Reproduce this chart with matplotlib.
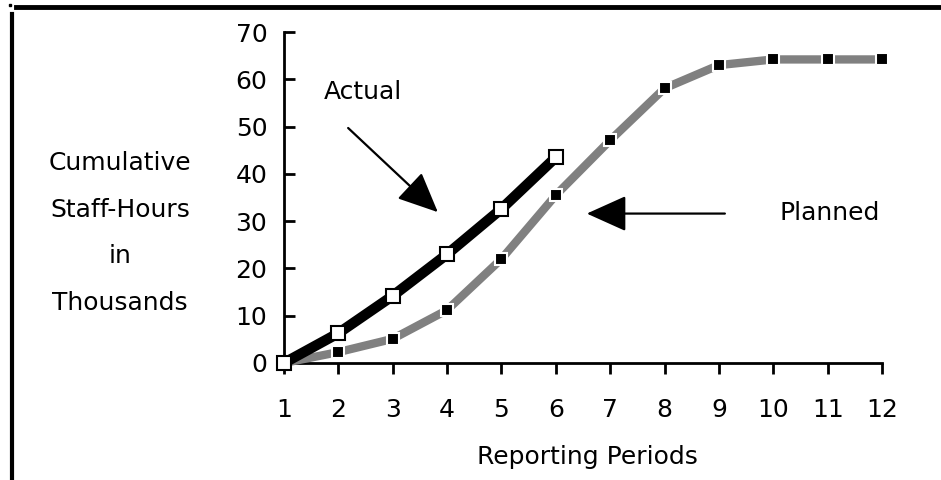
import matplotlib.pyplot as plt
from matplotlib.lines import Line2D

# Data
periods = list(range(1, 13))
actual_periods = [1, 2, 3, 4, 5, 6]
actual = [0, 6.3, 14.2, 23, 32.6, 43.5]
planned = [0, 2.3, 5.1, 11.2, 22, 35.5, 47.1, 58.1, 63, 64.2, 64.2, 64.2]
y_ticks = [0, 10, 20, 30, 40, 50, 60, 70]

plt.rcParams['font.family'] = 'DejaVu Sans'

fig = plt.figure(figsize=(9.41, 4.80), dpi=100)
ax = fig.add_axes([0.3018, 0.2438, 0.6355, 0.6895])

# Planned line: gray with black squares outlined in white
ax.plot(periods, planned, color='#808080', lw=6, marker='s', markersize=9,
        markerfacecolor='black', markeredgecolor='white', markeredgewidth=1.5,
        clip_on=False, zorder=3)
# Actual line: thick black with hollow squares
ax.plot(actual_periods, actual, color='black', lw=7.5, marker='s', markersize=10.5,
        markerfacecolor='white', markeredgecolor='black', markeredgewidth=1.5,
        clip_on=False, zorder=4)

ax.set_xlim(1, 12)
ax.set_ylim(0, 70)
ax.set_xticks(periods)
ax.set_yticks(y_ticks)
ax.spines['top'].set_visible(False)
ax.spines['right'].set_visible(False)
for s in ['left', 'bottom']:
    ax.spines[s].set_linewidth(2)
ax.tick_params(axis='x', direction='out', length=8, width=2, pad=17, labelsize=18)
ax.tick_params(axis='y', direction='in', length=8, width=2, pad=12, labelsize=18)

# Annotations
arrow = dict(arrowstyle='-|>,head_length=1.0,head_width=0.45', mutation_scale=25,
             color='black', lw=1.6, shrinkA=0, shrinkB=0)
ax.annotate('', xy=(3.83, 31.9), xytext=(2.18, 49.7), arrowprops=arrow)
ax.annotate('', xy=(6.57, 31.6), xytext=(9.11, 31.6), arrowprops=arrow)
ax.text(2.45, 57.3, 'Actual', fontsize=18, ha='center', va='center')
ax.text(11.03, 31.7, 'Planned', fontsize=18, ha='center', va='center')

fig.text(120 / 941, 1 - 233 / 480, 'Cumulative\nStaff-Hours\nin\nThousands',
         fontsize=18, ha='center', va='center', multialignment='center',
         linespacing=2.2)
fig.text(587 / 941, 1 - 457 / 480, 'Reporting Periods', fontsize=18,
         ha='center', va='center')

# Frame lines at top and left edge
fig.add_artist(Line2D([16 / 941, 1], [1 - 7 / 480, 1 - 7 / 480],
                      transform=fig.transFigure, color='black', lw=3.5))
fig.add_artist(Line2D([12 / 941, 12 / 941], [1 - 14 / 480, 0],
                      transform=fig.transFigure, color='black', lw=3))
fig.add_artist(Line2D([10 / 941], [1 - 5 / 480], transform=fig.transFigure,
                      marker='s', markersize=2, color='black', lw=0))

fig.savefig('out.png', dpi=100)
